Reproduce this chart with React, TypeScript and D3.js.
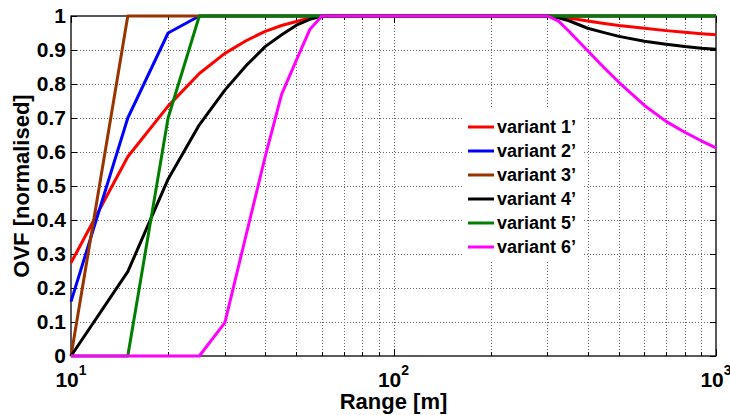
import React, { useEffect, useRef } from 'react';
import * as d3 from 'd3';

// range samples [m]
const rangeRise = [10, 15, 20, 25, 30, 35, 40, 45, 50, 55, 60];
const rangeFall = [300, 325, 350, 400, 450, 500, 600, 700, 800, 900, 1000];
const ranges = [...rangeRise, ...rangeFall];

// OVF values (normalised), one per range sample
const variant1 = [0.274, 0.586, 0.735, 0.831, 0.89, 0.928, 0.955, 0.972, 0.984, 0.994, 1, 1, 0.998, 0.994, 0.985, 0.978, 0.972, 0.964, 0.957, 0.952, 0.948, 0.945];
const variant2 = [0.16, 0.7, 0.95, 1, 1, 1, 1, 1, 1, 1, 1, 1, 1, 1, 1, 1, 1, 1, 1, 1, 1, 1];
const variant3 = [0, 1, 1, 1, 1, 1, 1, 1, 1, 1, 1, 1, 1, 1, 1, 1, 1, 1, 1, 1, 1, 1];
const variant4 = [0, 0.248, 0.52, 0.68, 0.782, 0.855, 0.91, 0.945, 0.973, 0.99, 1, 1, 0.995, 0.986, 0.964, 0.951, 0.94, 0.926, 0.917, 0.91, 0.905, 0.902];
const variant5 = [0, 0, 0.7, 1, 1, 1, 1, 1, 1, 1, 1, 1, 1, 1, 1, 1, 1, 1, 1, 1, 1, 1];
const variant6 = [0, 0, 0, 0, 0.098, 0.36, 0.586, 0.77, 0.87, 0.96, 1, 1, 0.985, 0.955, 0.898, 0.848, 0.805, 0.737, 0.69, 0.658, 0.633, 0.612];

const seriesNames = ['variant 1\u2019', 'variant 2\u2019', 'variant 3\u2019', 'variant 4\u2019', 'variant 5\u2019', 'variant 6\u2019'];
const seriesColors = ['#ff0000', '#0000ff', '#993300', '#000000', '#007f00', '#ff00ff'];
const seriesValues = [variant1, variant2, variant3, variant4, variant5, variant6];

const yTicks = [0, 0.1, 0.2, 0.3, 0.4, 0.5, 0.6, 0.7, 0.8, 0.9, 1];
const yTickLabels = ['0', '0.1', '0.2', '0.3', '0.4', '0.5', '0.6', '0.7', '0.8', '0.9', '1'];
const xMajor = [10, 100, 1000];
const xExponents = ['1', '2', '3'];

const FONT = '"Liberation Sans", Arial, Helvetica, sans-serif';

export default function App() {
    const ref = useRef<SVGSVGElement>(null);

    useEffect(() => {
        const left = 71, right = 716, top = 16, bottom = 356;

        const svg = d3.select(ref.current);
        svg.selectAll('*').remove();

        const x = d3.scaleLog().domain([10, 1000]).range([left, right]);
        const y = d3.scaleLinear().domain([0, 1]).range([bottom, top]);

        const minor: number[] = [];
        [10, 100].forEach(dec => {
            for (let k = 2; k <= 9; k++) minor.push(dec * k);
        });

        // grid
        const grid = svg.append('g')
            .attr('stroke', '#666')
            .attr('stroke-width', 1)
            .attr('stroke-dasharray', '1,2');
        grid.selectAll('.gx')
            .data([...minor, 100]).enter()
            .append('line')
            .attr('x1', d => Math.round(x(d)) + 0.5)
            .attr('x2', d => Math.round(x(d)) + 0.5)
            .attr('y1', top)
            .attr('y2', bottom);
        grid.selectAll('.gy')
            .data(yTicks.slice(1, -1)).enter()
            .append('line')
            .attr('x1', left)
            .attr('x2', right)
            .attr('y1', d => Math.round(y(d)) + 0.5)
            .attr('y2', d => Math.round(y(d)) + 0.5);

        // legend background hides grid
        svg.append('rect')
            .attr('x', 462).attr('y', 107)
            .attr('width', 121).attr('height', 155)
            .attr('fill', '#fff');

        // ticks
        const ticks = svg.append('g').attr('stroke', '#000').attr('stroke-width', 1);
        yTicks.forEach(v => {
            const yy = Math.round(y(v)) + 0.5;
            ticks.append('line').attr('x1', left).attr('x2', left + 6).attr('y1', yy).attr('y2', yy);
            ticks.append('line').attr('x1', right).attr('x2', right - 6).attr('y1', yy).attr('y2', yy);
        });
        [...minor, ...xMajor].forEach(v => {
            const xx = Math.round(x(v)) + 0.5;
            const len = xMajor.includes(v) ? 7 : 4;
            ticks.append('line').attr('x1', xx).attr('x2', xx).attr('y1', bottom).attr('y2', bottom - len);
            ticks.append('line').attr('x1', xx).attr('x2', xx).attr('y1', top).attr('y2', top + len);
        });

        // box
        svg.append('rect')
            .attr('x', left).attr('y', top)
            .attr('width', right - left).attr('height', bottom - top)
            .attr('fill', 'none')
            .attr('stroke', '#000')
            .attr('stroke-width', 1.3);

        // series
        const line = d3.line<number>()
            .x((d, i) => x(ranges[i]))
            .y(d => y(d));
        seriesValues.forEach((vals, i) => {
            svg.append('path')
                .attr('d', line(vals))
                .attr('fill', 'none')
                .attr('stroke', seriesColors[i])
                .attr('stroke-width', 3)
                .attr('stroke-linejoin', 'round');
        });

        // y tick labels
        svg.append('g')
            .selectAll('text')
            .data(yTicks).enter()
            .append('text')
            .attr('x', 66)
            .attr('y', d => y(d) + 7)
            .attr('text-anchor', 'end')
            .attr('font-family', FONT)
            .attr('font-weight', 'bold')
            .attr('font-size', 21)
            .text((d, i) => yTickLabels[i]);

        // x tick labels 10^n
        xMajor.forEach((v, i) => {
            const t = svg.append('text')
                .attr('x', x(v))
                .attr('y', 387)
                .attr('text-anchor', 'middle')
                .attr('font-family', FONT)
                .attr('font-weight', 'bold')
                .attr('font-size', 21);
            t.append('tspan').text('10');
            t.append('tspan').attr('dy', -12).attr('font-size', 14).text(xExponents[i]);
        });

        // axis labels
        svg.append('text')
            .attr('x', (left + right) / 2)
            .attr('y', 409)
            .attr('text-anchor', 'middle')
            .attr('font-family', FONT)
            .attr('font-weight', 'bold')
            .attr('font-size', 22)
            .text('Range [m]');

        svg.append('text')
            .attr('transform', `translate(29, ${(top + bottom) / 2}) rotate(-90)`)
            .attr('text-anchor', 'middle')
            .attr('font-family', FONT)
            .attr('font-weight', 'bold')
            .attr('font-size', 22)
            .text('OVF [normalised]');

        // legend
        const legend = svg.append('g');
        seriesNames.forEach((name, i) => {
            const ly = 127 + i * 24;
            legend.append('line')
                .attr('x1', 468).attr('x2', 494)
                .attr('y1', ly).attr('y2', ly)
                .attr('stroke', seriesColors[i])
                .attr('stroke-width', 3);
            legend.append('text')
                .attr('x', 497)
                .attr('y', ly + 6)
                .attr('font-family', FONT)
                .attr('font-weight', 'bold')
                .attr('font-size', 18)
                .text(name);
        });
    }, []);

    return (
        <svg ref={ref} width={730} height={415}
            style={{ position: 'absolute', left: 0, top: 0, background: '#fff' }} />
    );
}
